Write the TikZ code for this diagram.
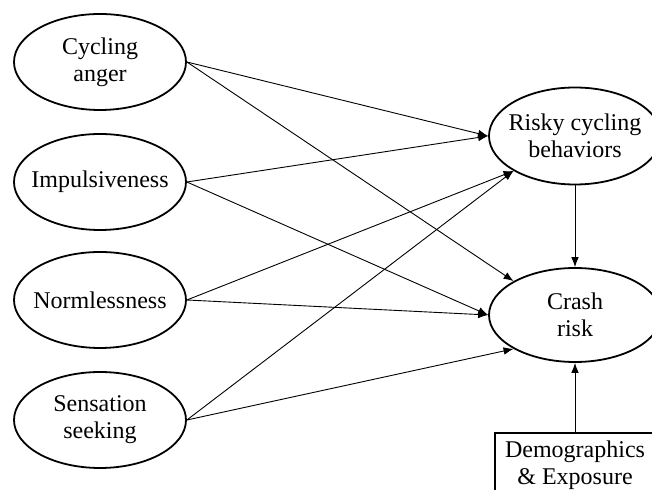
\documentclass[tikz,border=0pt]{standalone}
\usepackage{fontspec}
\setmainfont{Liberation Serif}
\usetikzlibrary{arrows.meta,shapes.geometric}
\tikzset{>={Latex[length=5pt,width=3.8pt]}}
\tikzset{
  latent/.style={ellipse,draw,line width=0.9pt,minimum width=86pt,minimum height=48pt,inner sep=0pt},
  txt/.style={align=center,font=\fontsize{12}{13.5}\selectfont},
  path/.style={->,line width=0.45pt}
}

\begin{document}
\begin{tikzpicture}[x=0.5pt,y=-0.5pt]
  \clip (0,0) rectangle (652,490);

  % Personality traits
  \node[latent,label={[txt]center:Cycling\\anger}] (anger) at (100,62) {};
  \node[latent,label={[txt]center:Impulsiveness}] (impuls) at (100,182) {};
  \node[latent,label={[txt]center:Normlessness}] (norml) at (100,300) {};
  \node[latent,label={[txt]center:Sensation\\seeking}] (sensat) at (100,420) {};

  % Outcomes
  \node[latent,minimum height=48.5pt,label={[txt]center:Risky cycling\\behaviors}] (risky) at (575,136) {};
  \node[latent,minimum height=47pt,label={[txt]center:Crash\\risk}] (crash) at (575,315) {};
  \node[draw,line width=0.7pt,minimum width=80pt,minimum height=32pt,txt] (demog) at (575,465) {Demographics\\\& Exposure};

  % Paths
  \draw[path] (anger.east) -- (risky.west);
  \draw[path] (anger.east) -- (crash.north west);
  \draw[path] (impuls.east) -- (risky.west);
  \draw[path] (impuls.east) -- (crash.west);
  \draw[path] (norml.east) -- (risky.south west);
  \draw[path] (norml.east) -- (crash.west);
  \draw[path] (sensat.east) -- (risky.south west);
  \draw[path] (sensat.east) -- (crash.south west);
  \draw[path] (risky.south) -- (crash.north);
  \draw[path] (demog.north) -- (crash.south);

\end{tikzpicture}
\end{document}
